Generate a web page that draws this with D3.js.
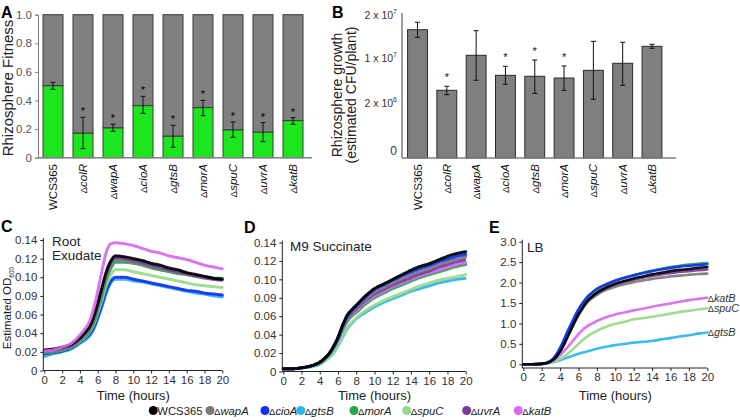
<!DOCTYPE html>
<html><head><meta charset="utf-8">
<script src="https://cdn.jsdelivr.net/npm/d3@7"></script>
<style>
body{margin:0;background:#fff;}
text{font-family:"Liberation Sans",Arial,sans-serif;}
</style></head>
<body><svg id="c" width="740" height="420"></svg>
<script>
// ---------- Data ----------
const barCats = ["WCS365","ΔcolR","ΔwapA","ΔcioA","ΔgtsB","ΔmorA","ΔspuC","ΔuvrA","ΔkatB"];
const fitness = [0.503,0.171,0.208,0.364,0.150,0.350,0.194,0.178,0.259];
const fitnessLo = [0.478,0.063,0.185,0.310,0.073,0.294,0.143,0.112,0.234];
const fitnessHi = [0.527,0.283,0.234,0.429,0.227,0.401,0.250,0.245,0.280];
const fitnessSig = [false,true,true,true,true,true,true,true,true];
const fitnessTicks = [0,0.2,0.4,0.6,0.8,1.0];
const fitnessTickLabels = ["0","0.2","0.4","0.6","0.8","1.0"];

const growth = [1.658e7,4.26e6,1.063e7,6.92e6,6.75e6,6.44e6,7.81e6,9.06e6,1.272e7];
const growthLo = [1.48e7,3.48e6,6.04e6,5.32e6,3.72e6,4.26e6,2.66e6,5.15e6,1.226e7];
const growthHi = [1.83e7,4.97e6,1.635e7,8.52e6,9.64e6,8.58e6,1.388e7,1.365e7,1.319e7];
const growthSig = [false,true,false,true,true,true,false,false,false];
const growthTicks = [0,2e6,1e7,2e7];
const growthTickMant = ["0","2","1","2"];
const growthTickExp = ["","6","7","7"];

const strains = ["WCS365","ΔwapA","ΔcioA","ΔgtsB","ΔmorA","ΔspuC","ΔuvrA","ΔkatB"];
const strainColors = ["#000000","#7a7a7a","#1030f0","#2fb4ee","#1fa84f","#98d98a","#7a3a9c","#d868ee"];
const hours = [0,1,2,3,4,4.5,5,5.5,6,6.5,7,7.5,8,9,10,11,12,13,14,15,16,17,18,19,20];
const timeTicks = [0,2,4,6,8,10,12,14,16,18,20];

// Panel C: root exudate (order = strains)
const exudate = [
 [0.022,0.023,0.025,0.028,0.035,0.040,0.046,0.056,0.072,0.090,0.107,0.118,0.123,0.122,0.120,0.118,0.115,0.113,0.110,0.108,0.105,0.103,0.101,0.099,0.098],
 [0.020,0.021,0.023,0.026,0.033,0.038,0.043,0.053,0.068,0.085,0.102,0.113,0.119,0.118,0.116,0.114,0.111,0.109,0.107,0.105,0.103,0.101,0.099,0.098,0.097],
 [0.018,0.019,0.021,0.024,0.030,0.034,0.038,0.045,0.057,0.071,0.086,0.096,0.100,0.100,0.098,0.096,0.094,0.092,0.090,0.088,0.086,0.085,0.083,0.082,0.081],
 [0.015,0.018,0.020,0.023,0.029,0.032,0.036,0.043,0.055,0.069,0.084,0.094,0.098,0.098,0.096,0.095,0.093,0.091,0.089,0.087,0.085,0.083,0.082,0.080,0.079],
 [0.019,0.020,0.022,0.025,0.032,0.036,0.041,0.050,0.064,0.081,0.098,0.110,0.116,0.116,0.115,0.113,0.110,0.108,0.106,0.104,0.103,0.101,0.100,0.099,0.099],
 [0.019,0.020,0.022,0.025,0.031,0.035,0.040,0.048,0.061,0.076,0.092,0.103,0.108,0.108,0.106,0.104,0.102,0.100,0.098,0.096,0.094,0.092,0.091,0.090,0.089],
 [0.021,0.022,0.024,0.027,0.034,0.039,0.045,0.055,0.070,0.088,0.105,0.116,0.121,0.120,0.118,0.116,0.113,0.111,0.108,0.106,0.104,0.102,0.100,0.098,0.097],
 [0.021,0.022,0.025,0.029,0.038,0.044,0.051,0.065,0.085,0.108,0.128,0.136,0.137,0.136,0.134,0.131,0.128,0.126,0.123,0.121,0.119,0.116,0.113,0.111,0.109]
];
const odTicks = [0,0.02,0.04,0.06,0.08,0.10,0.12,0.14];
const odTickLabels = ["0","0.02","0.04","0.06","0.09","0.10","0.12","0.14"];

// Panel D: M9 succinate
const succinate = [
 [0.003,0.003,0.004,0.006,0.010,0.014,0.019,0.027,0.037,0.050,0.061,0.067,0.072,0.082,0.090,0.095,0.100,0.105,0.110,0.114,0.117,0.121,0.125,0.128,0.130],
 [0.003,0.003,0.004,0.006,0.010,0.014,0.019,0.027,0.036,0.048,0.058,0.064,0.069,0.078,0.086,0.091,0.096,0.101,0.105,0.109,0.112,0.116,0.119,0.122,0.124],
 [0.003,0.003,0.004,0.006,0.010,0.014,0.019,0.027,0.037,0.050,0.060,0.066,0.071,0.081,0.089,0.094,0.099,0.104,0.108,0.112,0.115,0.119,0.122,0.125,0.127],
 [0.003,0.003,0.004,0.005,0.008,0.011,0.015,0.020,0.028,0.037,0.046,0.052,0.057,0.064,0.070,0.075,0.079,0.083,0.087,0.090,0.093,0.096,0.098,0.100,0.101],
 [0.003,0.003,0.004,0.006,0.009,0.013,0.018,0.025,0.034,0.045,0.054,0.060,0.064,0.073,0.080,0.085,0.090,0.094,0.098,0.102,0.105,0.108,0.111,0.114,0.116],
 [0.003,0.003,0.004,0.005,0.008,0.011,0.015,0.021,0.029,0.038,0.047,0.053,0.058,0.066,0.072,0.077,0.081,0.085,0.089,0.093,0.096,0.099,0.101,0.103,0.105],
 [0.003,0.003,0.004,0.006,0.010,0.014,0.019,0.026,0.035,0.047,0.057,0.063,0.068,0.077,0.084,0.089,0.094,0.098,0.102,0.106,0.109,0.113,0.116,0.119,0.121],
 [0.003,0.003,0.004,0.006,0.010,0.014,0.019,0.026,0.035,0.046,0.056,0.062,0.066,0.075,0.082,0.087,0.092,0.096,0.100,0.104,0.107,0.110,0.113,0.116,0.118]
];

// Panel E: LB
const lb = [
 [0,0,0.01,0.07,0.31,0.52,0.76,1.00,1.22,1.40,1.56,1.66,1.75,1.88,1.97,2.04,2.10,2.15,2.20,2.24,2.28,2.31,2.33,2.36,2.38],
 [0,0,0.01,0.07,0.32,0.53,0.76,0.99,1.20,1.38,1.52,1.62,1.70,1.82,1.90,1.96,2.01,2.05,2.09,2.12,2.15,2.17,2.19,2.21,2.22],
 [0,0,0.01,0.09,0.40,0.65,0.90,1.13,1.35,1.52,1.66,1.76,1.85,1.96,2.05,2.12,2.18,2.23,2.28,2.32,2.36,2.39,2.41,2.43,2.45],
 [0,0,0.01,0.04,0.10,0.14,0.18,0.22,0.26,0.29,0.32,0.35,0.38,0.43,0.47,0.50,0.53,0.55,0.57,0.61,0.64,0.68,0.71,0.75,0.78],
 [0,0,0.01,0.08,0.38,0.62,0.87,1.10,1.32,1.50,1.64,1.74,1.82,1.95,2.04,2.12,2.18,2.24,2.29,2.34,2.38,2.41,2.44,2.46,2.48],
 [0,0,0.01,0.04,0.13,0.20,0.29,0.39,0.50,0.60,0.69,0.76,0.82,0.92,0.99,1.04,1.10,1.13,1.16,1.20,1.24,1.28,1.31,1.34,1.37],
 [0,0,0.01,0.07,0.33,0.55,0.79,1.02,1.24,1.42,1.56,1.66,1.74,1.86,1.95,2.02,2.07,2.12,2.16,2.20,2.23,2.26,2.28,2.30,2.32],
 [0,0,0.01,0.06,0.22,0.34,0.47,0.60,0.74,0.85,0.94,1.00,1.06,1.15,1.22,1.27,1.32,1.36,1.41,1.45,1.49,1.53,1.57,1.60,1.63]
];
const lbTicks = [0,0.5,1,1.5,2,2.5,3];
const lbTickLabels = ["0","0.5","1.0","1.5","2.0","2.5","3.0"];
const lbLabelled = ["ΔkatB","ΔspuC","ΔgtsB"];

// ---------- Drawing ----------
const svg = d3.select("#c");
const axisCol = "#7f7f7f";
const FONT = "Liberation Sans, Arial, sans-serif";

function geneLabel(sel, name){
  if(name[0]==="Δ"){
    sel.append("tspan").attr("font-size","0.85em").text("Δ");
    sel.append("tspan").attr("font-style","italic").text(name.slice(1));
  } else sel.text(name);
}
function panelLetter(t,x,y){
  svg.append("text").attr("x",x).attr("y",y).attr("font-size",16).attr("font-weight","bold").text(t);
}

// ---- Panel A ----
{
  const x = d3.scaleBand().domain(barCats).range([38,308]).paddingInner(1/3).paddingOuter(1/6);
  const y = d3.scaleLinear().domain([0,1]).range([157.7,14.7]);
  const g = svg.append("g");
  const idx = d3.range(barCats.length);
  g.selectAll(".bg").data(idx).join("rect")
    .attr("x",i=>x(barCats[i])).attr("width",x.bandwidth())
    .attr("y",y(1)).attr("height",i=>y(fitness[i])-y(1))
    .attr("fill","#808080").attr("stroke","#3a3a3a").attr("stroke-width",1);
  g.selectAll(".fg").data(idx).join("rect")
    .attr("x",i=>x(barCats[i])).attr("width",x.bandwidth())
    .attr("y",i=>y(fitness[i])).attr("height",i=>y(0)-y(fitness[i]))
    .attr("fill","#1ee61e").attr("stroke","#3a3a3a").attr("stroke-width",1);
  idx.forEach(i=>{
    const cx = x(barCats[i])+x.bandwidth()/2;
    g.append("line").attr("x1",cx).attr("x2",cx).attr("y1",y(fitnessLo[i])).attr("y2",y(fitnessHi[i])).attr("stroke","#111");
    [fitnessLo[i],fitnessHi[i]].forEach(v=>g.append("line").attr("x1",cx-2.5).attr("x2",cx+2.5).attr("y1",y(v)).attr("y2",y(v)).attr("stroke","#111"));
    if(fitnessSig[i]) g.append("text").attr("x",cx).attr("y",y(fitnessHi[i])-2).attr("text-anchor","middle").attr("font-size",11).text("*");
  });
  const ya = g.append("g").attr("transform","translate(38,0)")
    .call(d3.axisLeft(y).tickValues(fitnessTicks).tickFormat((d,i)=>fitnessTickLabels[i]).tickSize(3).tickPadding(3));
  ya.select(".domain").attr("stroke",axisCol);
  ya.selectAll(".tick line").attr("stroke",axisCol);
  ya.selectAll("text").attr("font-size",11.5).attr("fill","#555").attr("font-family",FONT);
  g.append("line").attr("x1",38).attr("x2",312).attr("y1",157.7).attr("y2",157.7).attr("stroke",axisCol).attr("stroke-width",1.5);
  idx.forEach(i=>{
    const cx = x(barCats[i])+x.bandwidth()/2;
    const t = g.append("text").attr("transform",`translate(${cx+4},164) rotate(-90)`).attr("text-anchor","end").attr("font-size",11.5).attr("fill","#111");
    geneLabel(t,barCats[i]);
  });
  g.append("text").attr("transform","translate(13,88) rotate(-90)").attr("text-anchor","middle").attr("font-size",15).attr("fill","#222").text("Rhizosphere Fitness");
  panelLetter("A",1,18);
}

// ---- Panel B ----
{
  const x = d3.scaleBand().domain(barCats).range([402,667.5]).paddingInner(0.322).paddingOuter(0.19);
  const y = d3.scaleLinear().domain(growthTicks).range([151,103,58,15]);
  const base = 158;
  const g = svg.append("g");
  const idx = d3.range(barCats.length);
  g.selectAll("rect").data(idx).join("rect")
    .attr("x",i=>x(barCats[i])).attr("width",x.bandwidth())
    .attr("y",i=>y(growth[i])).attr("height",i=>base-y(growth[i]))
    .attr("fill","#7f7f7f").attr("stroke","#2a2a2a").attr("stroke-width",1);
  idx.forEach(i=>{
    const cx = x(barCats[i])+x.bandwidth()/2;
    g.append("line").attr("x1",cx).attr("x2",cx).attr("y1",y(growthLo[i])).attr("y2",y(growthHi[i])).attr("stroke","#111");
    [growthLo[i],growthHi[i]].forEach(v=>g.append("line").attr("x1",cx-2.5).attr("x2",cx+2.5).attr("y1",y(v)).attr("y2",y(v)).attr("stroke","#111"));
    if(growthSig[i]) g.append("text").attr("x",cx).attr("y",y(growthHi[i])-5).attr("text-anchor","middle").attr("font-size",11).attr("fill","#111").text("*");
  });
  g.append("line").attr("x1",402).attr("x2",402).attr("y1",13).attr("y2",base).attr("stroke",axisCol).attr("stroke-width",1.5);
  g.append("line").attr("x1",402).attr("x2",676).attr("y1",base).attr("y2",base).attr("stroke",axisCol).attr("stroke-width",1.5);
  growthTicks.forEach((v,i)=>{
    const t = g.append("text").attr("x",397).attr("y",y(v)+4).attr("text-anchor","end").attr("font-size",10.5).attr("fill","#333");
    if(growthTickExp[i]===""){ t.attr("font-size",12).text(growthTickMant[i]); }
    else {
      t.append("tspan").text(growthTickMant[i]+" x 10");
      t.append("tspan").attr("font-size",7).attr("dy",-5).text(growthTickExp[i]);
    }
  });
  idx.forEach(i=>{
    const cx = x(barCats[i])+x.bandwidth()/2;
    const t = g.append("text").attr("transform",`translate(${cx+4},164) rotate(-90)`).attr("text-anchor","end").attr("font-size",11.5).attr("fill","#111");
    geneLabel(t,barCats[i]);
  });
  g.append("text").attr("transform","translate(342,95) rotate(-90)").attr("text-anchor","middle").attr("font-size",14).attr("fill","#222").text("Rhizosphere growth");
  g.append("text").attr("transform","translate(356,95) rotate(-90)").attr("text-anchor","middle").attr("font-size",14).attr("fill","#222").text("(estimated CFU/plant)");
  panelLetter("B",332,18);
}

// ---- Growth curve panels ----
function curvePanel(opt){
  const g = svg.append("g");
  const x = d3.scaleLinear().domain([0,20]).range(opt.xr);
  const y = d3.scaleLinear().domain(opt.yd).range(opt.yr);
  const line = d3.line().x((d,i)=>x(hours[i])).y(d=>y(d)).curve(d3.curveMonotoneX);
  opt.order.forEach(si=>{
    g.append("path").attr("d",line(opt.data[si])).attr("fill","none")
      .attr("stroke",strainColors[si]).attr("stroke-width",opt.sw).attr("stroke-linecap","round")
      .attr("stroke-dasharray",opt.dash).attr("opacity",0.92);
  });
  const ya = g.append("g").attr("transform",`translate(${opt.xr[0]-1},0)`)
    .call(d3.axisLeft(y).tickValues(opt.yt).tickFormat((d,i)=>opt.yl[i]).tickSize(3).tickPadding(3));
  ya.select(".domain").attr("stroke","#222").attr("d",`M-0,${opt.axisY}V${opt.yr[1]-2}`);
  ya.selectAll(".tick line").attr("stroke","#222");
  ya.selectAll("text").attr("font-size",11.5).attr("fill","#333").attr("font-family",FONT);
  const xa = g.append("g").attr("transform",`translate(0,${opt.axisY})`)
    .call(d3.axisBottom(x).tickValues(timeTicks).tickFormat(d3.format("d")).tickSize(3).tickPadding(2));
  xa.select(".domain").attr("stroke","#222").attr("d",`M${opt.xr[0]-1},0H${opt.xr[1]}`);
  xa.selectAll(".tick line").attr("stroke","#222");
  xa.selectAll("text").attr("font-size",11.5).attr("fill","#333").attr("font-family",FONT);
  g.append("text").attr("x",(opt.xr[0]+opt.xr[1])/2).attr("y",400).attr("text-anchor","middle").attr("font-size",13).attr("fill","#222").text("Time (hours)");
  return {g,x,y};
}

// C
{
  const p = curvePanel({xr:[44.3,222.3], yd:[0,0.14], yr:[370.5,240], axisY:370.5, data:exudate,
    order:[3,2,5,4,1,6,0,7], yt:odTicks, yl:odTickLabels, sw:3, dash:"2.2 1.2"});
  p.g.append("text").attr("x",52).attr("y",246).attr("font-size",13.5).attr("fill","#222").text("Root");
  p.g.append("text").attr("x",52).attr("y",260).attr("font-size",13.5).attr("fill","#222").text("Exudate");
  const t = svg.append("text").attr("transform","translate(11,308) rotate(-90)").attr("text-anchor","middle").attr("font-size",11.5).attr("fill","#222");
  t.append("tspan").text("Estimated OD");
  t.append("tspan").attr("font-size",6.5).attr("dy",3).text("600");
  panelLetter("C",1,232);
}
// D
{
  const p = curvePanel({xr:[283.3,465.7], yd:[0,0.14], yr:[371.5,242.5], axisY:371.5, data:succinate,
    order:[3,5,4,7,6,1,2,0], yt:odTicks, yl:odTickLabels, sw:3, dash:"2.2 1.2"});
  p.g.append("text").attr("x",290).attr("y",251).attr("font-size",13.5).attr("fill","#222").text("M9 Succinate");
  panelLetter("D",244,233);
}
// E
{
  const p = curvePanel({xr:[523.3,707.3], yd:[0,3], yr:[364.3,241.7], axisY:368, data:lb,
    order:[3,5,7,1,6,4,2,0], yt:lbTicks, yl:lbTickLabels, sw:2.6, dash:null});
  p.g.append("text").attr("x",527).attr("y",252).attr("font-size",13.5).attr("fill","#222").text("LB");
  lbLabelled.forEach(name=>{
    const si = strains.indexOf(name);
    const v = lb[si][lb[si].length-1];
    const t = p.g.append("text").attr("x",p.x(20)+0.5).attr("y",p.y(v)+4).attr("font-size",10.8).attr("fill","#333");
    geneLabel(t,name);
  });
  panelLetter("E",489,233);
}

// ---- Legend ----
{
  const g = svg.append("g");
  const xs = [153.3,210,265,300.7,354,406.7,466.7,518.3];
  strains.forEach((s,i)=>{
    g.append("circle").attr("cx",xs[i]).attr("cy",410.5).attr("r",4.5).attr("fill",strainColors[i]);
    const t = g.append("text").attr("x",xs[i]+4).attr("y",415).attr("font-size",11.3).attr("fill","#222");
    geneLabel(t,s);
  });
}
</script></body></html>
